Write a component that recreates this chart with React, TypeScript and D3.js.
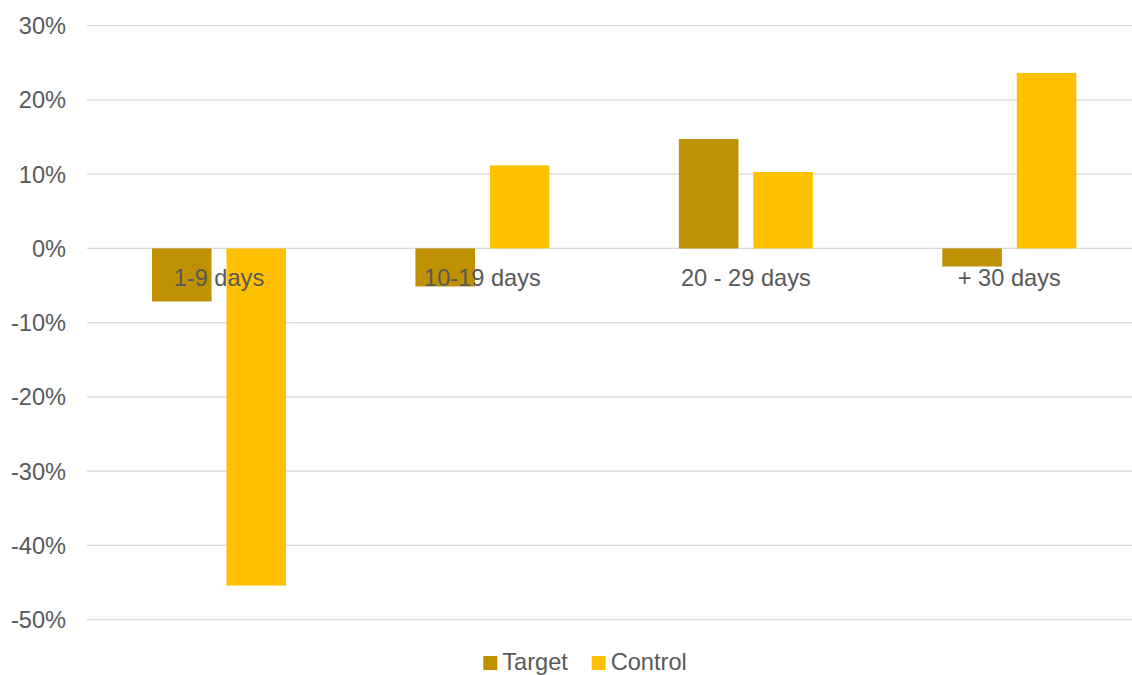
import React, { useEffect, useRef } from 'react';
import * as d3 from 'd3';

const categories = ['1-9 days', '10-19 days', '20 - 29 days', '+ 30 days'];
const seriesNames = ['Target', 'Control'];
const targetValues = [-0.0714, -0.0512, 0.1474, -0.0243];
const controlValues = [-0.4540, 0.1119, 0.1030, 0.2364];
const yTicks = [0.3, 0.2, 0.1, 0, -0.1, -0.2, -0.3, -0.4, -0.5];
const seriesColors = ['#BF9000', '#FFC000'];

const W = 1132;
const H = 675;

const App: React.FC = () => {
  const ref = useRef<SVGSVGElement>(null);

  useEffect(() => {
    if (!ref.current) return;
    const svg = d3.select(ref.current);
    svg.selectAll('*').remove();

    const font = '"Liberation Sans", Arial, sans-serif';
    const textColor = '#595959';
    const fontSize = 23.6;

    // 坐标比例尺
    const x = d3.scaleBand<string>()
      .domain(categories)
      .range([87.25, 1141])
      .paddingInner(0)
      .paddingOuter(0);

    const xInner = d3.scaleBand<string>()
      .domain(seriesNames)
      .range([64.75, 198.75])
      .paddingInner(0.2)
      .paddingOuter(0);

    const y = d3.scaleLinear()
      .domain([-0.5, 0.3])
      .range([619.7, 25.7]);

    // 网格线
    svg.append('g')
      .selectAll('line')
      .data(yTicks)
      .enter()
      .append('line')
      .attr('x1', 87)
      .attr('x2', W)
      .attr('y1', d => y(d))
      .attr('y2', d => y(d))
      .attr('stroke', '#D9D9D9')
      .attr('stroke-width', 1.3);

    // Y轴标签
    svg.append('g')
      .selectAll('text')
      .data(yTicks)
      .enter()
      .append('text')
      .attr('x', 66)
      .attr('y', d => y(d))
      .attr('dy', '0.36em')
      .attr('text-anchor', 'end')
      .attr('font-family', font)
      .attr('font-size', fontSize)
      .attr('fill', textColor)
      .text(d => `${Math.round(d * 100)}%`);

    // 柱子
    const allSeries = [targetValues, controlValues];
    allSeries.forEach((values, si) => {
      svg.append('g')
        .selectAll('rect')
        .data(values)
        .enter()
        .append('rect')
        .attr('x', (_d, i) => (x(categories[i]) || 0) + (xInner(seriesNames[si]) || 0))
        .attr('width', xInner.bandwidth())
        .attr('y', d => Math.min(y(d), y(0)))
        .attr('height', d => Math.abs(y(d) - y(0)))
        .attr('fill', seriesColors[si]);
    });

    // 类别标签（位于零线下方）
    svg.append('g')
      .selectAll('text')
      .data(categories)
      .enter()
      .append('text')
      .attr('x', d => (x(d) || 0) + x.bandwidth() / 2)
      .attr('y', y(0) + 38)
      .attr('text-anchor', 'middle')
      .attr('font-family', font)
      .attr('font-size', fontSize)
      .attr('fill', textColor)
      .text(d => d);

    // 图例
    const legendItems = [
      { name: seriesNames[0], color: seriesColors[0], x: 483.3 },
      { name: seriesNames[1], color: seriesColors[1], x: 591.7 },
    ];
    const legend = svg.append('g');
    legendItems.forEach(item => {
      legend.append('rect')
        .attr('x', item.x)
        .attr('y', 656)
        .attr('width', 14)
        .attr('height', 14)
        .attr('fill', item.color);
      legend.append('text')
        .attr('x', item.x + 19)
        .attr('y', 669.5)
        .attr('font-family', font)
        .attr('font-size', fontSize)
        .attr('fill', textColor)
        .text(item.name);
    });
  }, []);

  return (
    <svg
      ref={ref}
      width={W}
      height={H}
      style={{ position: 'absolute', left: 0, top: 0, background: '#fff' }}
    />
  );
};

export default App;
